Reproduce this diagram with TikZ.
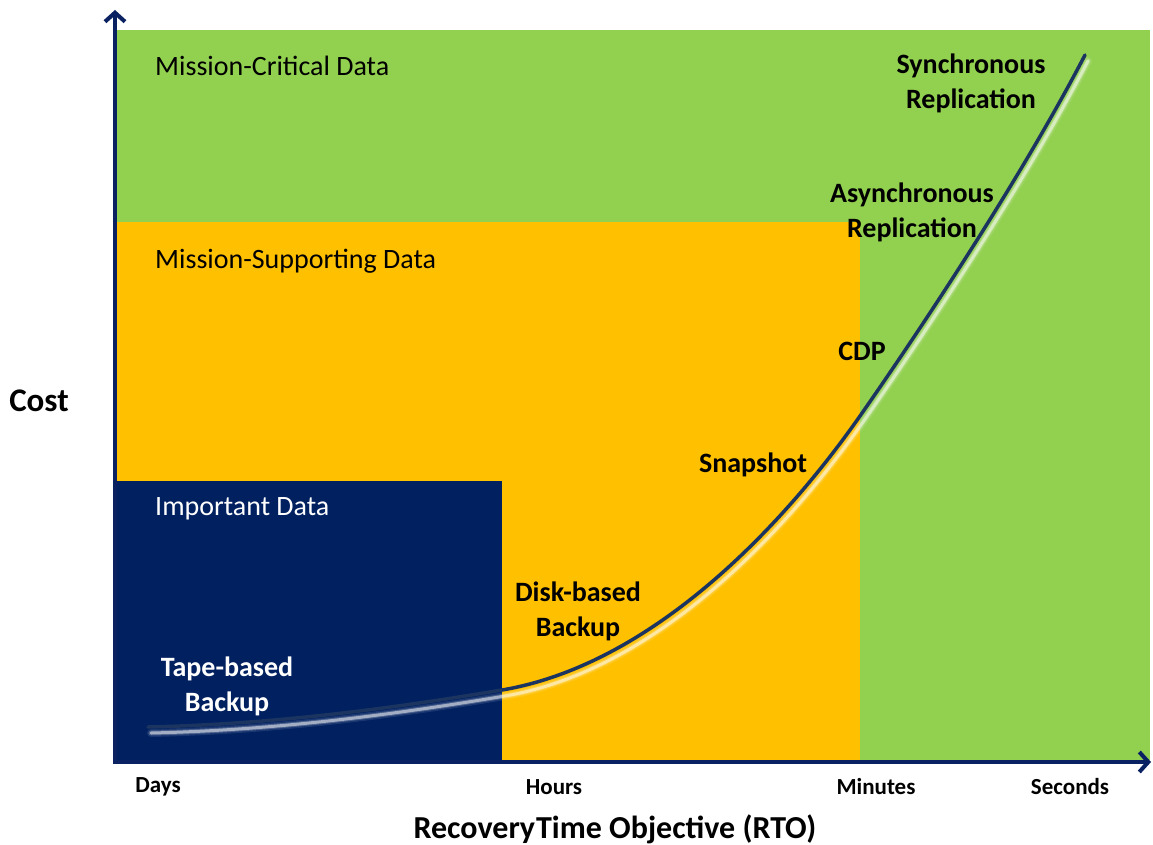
\documentclass[tikz,border=0pt]{standalone}
\usepackage{fontspec}
\setmainfont{Carlito}
\usetikzlibrary{arrows.meta}
\definecolor{mcgreen}{HTML}{92D050}
\definecolor{msorange}{HTML}{FFC000}
\definecolor{imnavy}{HTML}{002060}
\definecolor{axisnavy}{HTML}{0A2162}
\definecolor{curvedark}{HTML}{1B3560}
\tikzset{
  region/.style={fill=#1, draw=none},
  regionlabel/.style={anchor=west, font=\fontsize{28}{32}\selectfont, inner sep=0pt},
  techlabel/.style={align=center, font=\fontsize{28}{35}\selectfont\bfseries, inner sep=0pt},
  ticklabel/.style={font=\fontsize{23}{26}\selectfont\bfseries, inner sep=0pt},
  axisline/.style={draw=axisnavy, line width=4pt, -{Straight Barb[length=9pt,width=20pt,line width=4pt]}},
}
\def\costcurve{(148,727) .. controls (280,724) and (400,707) .. (502,690)
  .. controls (650,665) and (780,530) .. (860,416)
  .. controls (920,330) and (1020,180) .. (1085,55)}
\begin{document}
\begin{tikzpicture}[x=1pt,y=-1pt]
\useasboundingbox (0,0) rectangle (1153,845);
\fill[white] (0,0) rectangle (1153,845);
% regions
\fill[region=mcgreen] (117,30) rectangle (1150,760);
\fill[region=msorange] (117,222) rectangle (860,760);
\fill[region=imnavy] (117,481) rectangle (502,760);
% curve glow
\foreach \w/\o in {8/0.1,5/0.2,3/0.5}{
  \draw[white, line width=\w pt, opacity=\o, line cap=round, xshift=3pt, yshift=-6pt] \costcurve;
}
% curve
\draw[curvedark, line width=3.5pt, line cap=round] \costcurve;
% axes
\coordinate (yo) at (115,764);
\coordinate (ytop) at (115,10);
\coordinate (xo) at (113,762);
\coordinate (xend) at (1151,762);
\draw[axisline] (yo) -- (ytop);
\draw[axisline] (xo) -- (xend);
% region labels
\node[regionlabel] (mc) at (155,66) {Mission-Critical Data};
\node[regionlabel] (ms) at (155,261) {Mission-Supporting Data};
\node[regionlabel, text=white] (im) at (155,509) {Important Data};
% technology labels
\node[techlabel] (sync) at (971,83) {Synchronous\\Replication};
\node[techlabel] (async) at (912,212) {Asynchronous\\Replication};
\node[techlabel] (cdp) at (862,351) {CDP};
\node[techlabel] (snap) at (753,465) {Snapshot};
\node[techlabel] (disk) at (578,611) {Disk-based\\Backup};
\node[techlabel, text=white] (tape) at (227,686) {Tape-based\\Backup};
% axis labels
\node[font=\fontsize{33}{36}\selectfont\bfseries, inner sep=0pt] (cost) at (39,401) {Cost};
\node[ticklabel] (days) at (158,787) {Days};
\node[ticklabel] (hours) at (554,787) {Hours};
\node[ticklabel] (minutes) at (876,787) {Minutes};
\node[ticklabel] (seconds) at (1070,787) {Seconds};
\node[font=\fontsize{32}{36}\selectfont\bfseries, inner sep=0pt] (rto) at (615,829) {Recovery\hspace{1pt}Time Objective (RTO)};
\end{tikzpicture}
\end{document}
